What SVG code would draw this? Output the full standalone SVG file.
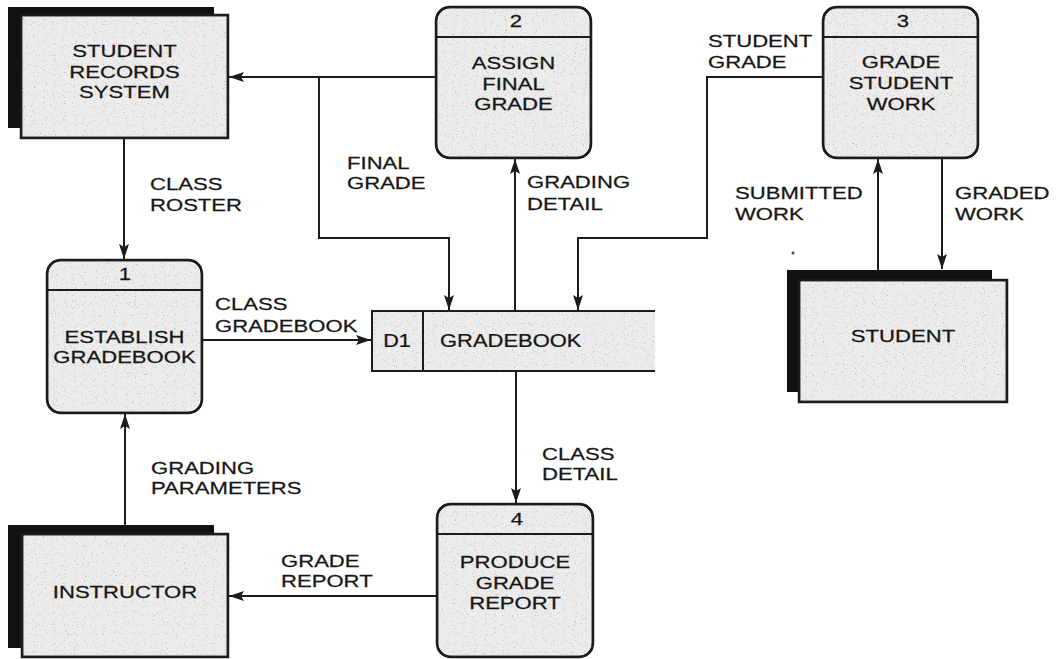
<svg xmlns="http://www.w3.org/2000/svg" width="1058" height="659" viewBox="0 0 1058 659">
<style>
.t{font-family:"Liberation Sans",Arial,Helvetica,sans-serif;font-size:17px;fill:#161616;stroke:#161616;stroke-width:0.25}
.ds{font-size:18px}
.fill{fill:#ececec}
.box{fill:#ececec;stroke:#1c1c1c;stroke-width:2.5}
.shadow{fill:#111}
.edge{fill:none;stroke:#1c1c1c;stroke-width:2}
.div{fill:none;stroke:#1c1c1c;stroke-width:2}
</style>
<defs>
<marker id="ah" viewBox="0 0 15 10" refX="15" refY="5" markerWidth="15" markerHeight="10" orient="auto" markerUnits="userSpaceOnUse">
<path d="M0,0 L15,5 L0,10 L3,5 z" fill="#1c1c1c"/>
</marker>
<filter id="speckle" x="0" y="0" width="100%" height="100%">
<feTurbulence type="fractalNoise" baseFrequency="0.9" numOctaves="2" seed="4" result="n"/>
<feColorMatrix in="n" type="matrix" values="0 0 0 0 0.45 0 0 0 0 0.45 0 0 0 0 0.45 4 0 0 0 -2.45" result="dots"/>
<feComposite in="dots" in2="SourceGraphic" operator="in" result="d2"/>
<feMerge><feMergeNode in="SourceGraphic"/><feMergeNode in="d2"/></feMerge>
</filter>
</defs>
<rect width="1058" height="659" fill="#ffffff"/>

<g id="connectors">
<path class="edge" d="M436,77 H229" marker-end="url(#ah)"/>
<path class="edge" d="M319,77 V238 H449 V310" marker-end="url(#ah)"/>
<path class="edge" d="M515,311 V159" marker-end="url(#ah)"/>
<path class="edge" d="M823,77 H707 V238 H578 V310" marker-end="url(#ah)"/>
<path class="edge" d="M878,270 V159" marker-end="url(#ah)"/>
<path class="edge" d="M942,158 V269" marker-end="url(#ah)"/>
<path class="edge" d="M124,138 V259" marker-end="url(#ah)"/>
<path class="edge" d="M202,340 H371" marker-end="url(#ah)"/>
<path class="edge" d="M516,371 V503" marker-end="url(#ah)"/>
<path class="edge" d="M125,525 V414" marker-end="url(#ah)"/>
<path class="edge" d="M437,596 H229" marker-end="url(#ah)"/>
<text class="t" transform="translate(150,190) scale(1.3,1)"><tspan x="0" y="0">CLASS</tspan><tspan x="0" y="21">ROSTER</tspan></text>
<text class="t" transform="translate(347,169) scale(1.3,1)"><tspan x="0" y="0">FINAL</tspan><tspan x="0" y="20">GRADE</tspan></text>
<text class="t" transform="translate(527,188) scale(1.3,1)"><tspan x="0" y="0">GRADING</tspan><tspan x="0" y="22">DETAIL</tspan></text>
<text class="t" transform="translate(708,47) scale(1.3,1)"><tspan x="0" y="0">STUDENT</tspan><tspan x="0" y="21">GRADE</tspan></text>
<text class="t" transform="translate(735,199) scale(1.3,1)"><tspan x="0" y="0">SUBMITTED</tspan><tspan x="0" y="21">WORK</tspan></text>
<text class="t" transform="translate(955,199) scale(1.3,1)"><tspan x="0" y="0">GRADED</tspan><tspan x="0" y="21">WORK</tspan></text>
<text class="t" transform="translate(215,310) scale(1.3,1)"><tspan x="0" y="0">CLASS</tspan><tspan x="0" y="22">GRADEBOOK</tspan></text>
<text class="t" transform="translate(542,460) scale(1.3,1)"><tspan x="0" y="0">CLASS</tspan><tspan x="0" y="20">DETAIL</tspan></text>
<text class="t" transform="translate(151,474) scale(1.3,1)"><tspan x="0" y="0">GRADING</tspan><tspan x="0" y="20">PARAMETERS</tspan></text>
<text class="t" transform="translate(281,567) scale(1.3,1)"><tspan x="0" y="0">GRADE</tspan><tspan x="0" y="20">REPORT</tspan></text>
</g>

<g id="student-records-system">
<rect class="shadow" x="8" y="7" width="206" height="121"/>
<rect class="box" x="21" y="15" width="207" height="123" filter="url(#speckle)"/>
<rect x="21" y="15" width="207" height="123" fill="none" stroke="#1c1c1c" stroke-width="2.5"/>
<text class="t" text-anchor="middle" transform="translate(124.5,57) scale(1.3,1)"><tspan x="0" y="0">STUDENT</tspan><tspan x="0" y="21">RECORDS</tspan><tspan x="0" y="41">SYSTEM</tspan></text>
</g>

<g id="instructor">
<rect class="shadow" x="8" y="525" width="206" height="123"/>
<rect class="box" x="22" y="534" width="206" height="123" filter="url(#speckle)"/>
<rect x="22" y="534" width="206" height="123" fill="none" stroke="#1c1c1c" stroke-width="2.5"/>
<text class="t" text-anchor="middle" transform="translate(125,598) scale(1.3,1)">INSTRUCTOR</text>
</g>

<g id="student">
<rect class="shadow" x="787" y="270" width="205" height="122"/>
<rect class="box" x="799" y="280" width="208" height="122" filter="url(#speckle)"/>
<rect x="799" y="280" width="208" height="122" fill="none" stroke="#1c1c1c" stroke-width="2.5"/>
<text class="t" text-anchor="middle" transform="translate(903,342) scale(1.3,1)">STUDENT</text>
</g>

<g id="process-1">
<rect class="box" x="47" y="260" width="155" height="153" rx="14" filter="url(#speckle)"/>
<rect x="47" y="260" width="155" height="153" rx="14" fill="none" stroke="#1c1c1c" stroke-width="2.5"/>
<path class="div" d="M47,290 H202"/>
<text class="t" text-anchor="middle" transform="translate(125,280) scale(1.3,1)">1</text>
<text class="t" text-anchor="middle" transform="translate(124.5,343) scale(1.3,1)"><tspan x="0" y="0">ESTABLISH</tspan><tspan x="0" y="20">GRADEBOOK</tspan></text>
</g>

<g id="process-2">
<rect class="box" x="436" y="7" width="155" height="151" rx="14" filter="url(#speckle)"/>
<rect x="436" y="7" width="155" height="151" rx="14" fill="none" stroke="#1c1c1c" stroke-width="2.5"/>
<path class="div" d="M436,37 H591"/>
<text class="t" text-anchor="middle" transform="translate(516,27) scale(1.3,1)">2</text>
<text class="t" text-anchor="middle" transform="translate(513.5,69) scale(1.3,1)"><tspan x="0" y="0">ASSIGN</tspan><tspan x="0" y="21">FINAL</tspan><tspan x="0" y="41">GRADE</tspan></text>
</g>

<g id="process-3">
<rect class="box" x="823" y="7" width="155" height="151" rx="14" filter="url(#speckle)"/>
<rect x="823" y="7" width="155" height="151" rx="14" fill="none" stroke="#1c1c1c" stroke-width="2.5"/>
<path class="div" d="M823,37 H978"/>
<text class="t" text-anchor="middle" transform="translate(903,27) scale(1.3,1)">3</text>
<text class="t" text-anchor="middle" transform="translate(901,68) scale(1.3,1)"><tspan x="0" y="0">GRADE</tspan><tspan x="0" y="21">STUDENT</tspan><tspan x="0" y="42">WORK</tspan></text>
</g>

<g id="process-4">
<rect class="box" x="437" y="504" width="156" height="153" rx="14" filter="url(#speckle)"/>
<rect x="437" y="504" width="156" height="153" rx="14" fill="none" stroke="#1c1c1c" stroke-width="2.5"/>
<path class="div" d="M437,534 H593"/>
<text class="t" text-anchor="middle" transform="translate(517,525) scale(1.3,1)">4</text>
<text class="t" text-anchor="middle" transform="translate(515,568) scale(1.3,1)"><tspan x="0" y="0">PRODUCE</tspan><tspan x="0" y="21">GRADE</tspan><tspan x="0" y="41">REPORT</tspan></text>
</g>

<g id="data-store-d1">
<rect class="fill" x="372" y="311" width="283" height="60" filter="url(#speckle)"/>
<path class="div" d="M655,311 H372 V371 H655 M423,311 V371"/>
<text class="t ds" text-anchor="middle" transform="translate(397,347) scale(1.2,1)">D1</text>
<text class="t ds" transform="translate(440,347) scale(1.22,1)">GRADEBOOK</text>
</g>

<circle cx="793" cy="253" r="1.5" fill="#444"/>
</svg>
